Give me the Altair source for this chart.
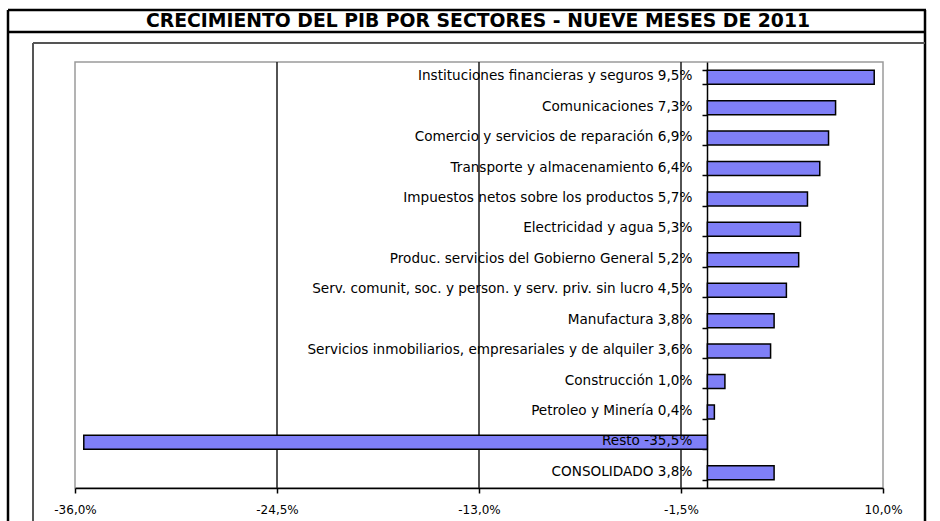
import altair as alt
import pandas as pd

SECTORS = [
    "Instituciones financieras y seguros",
    "Comunicaciones",
    "Comercio y servicios de reparación",
    "Transporte y almacenamiento",
    "Impuestos netos sobre los productos",
    "Electricidad y agua",
    "Produc. servicios del Gobierno General",
    "Serv. comunit, soc. y person. y serv. priv. sin lucro",
    "Manufactura",
    "Servicios inmobiliarios, empresariales y de alquiler",
    "Construcción",
    "Petroleo y Minería",
    "Resto",
    "CONSOLIDADO ",
]
VALUES = [9.5, 7.3, 6.9, 6.4, 5.7, 5.3, 5.2, 4.5, 3.8, 3.6, 1.0, 0.4, -35.5, 3.8]
X_TICKS = [-36.0, -24.5, -13.0, -1.5, 10.0]
GRID = [-24.5, -13.0, -1.5]
TITLE = "CRECIMIENTO DEL PIB POR SECTORES - NUEVE MESES DE 2011"


def fmt(v):
    return f"{v:.1f}".replace(".", ",") + "%"


df = pd.DataFrame({
    "sector": SECTORS,
    "value": VALUES,
    "label": [f"{s} {fmt(v)}" for s, v in zip(SECTORS, VALUES)],
})

W, H = 808, 426
FONT = "DejaVu Sans"

xscale = alt.Scale(domain=[-36, 10], nice=False, zero=False)
xaxis = alt.Axis(
    title=None, values=X_TICKS, grid=False,
    labelExpr="replace(replace(format(datum.value, '.1f'), '.', ','), '\u2212', '-') + '%'",
    labelFont=FONT, labelFontSize=12, labelColor="black",
    labelPadding=11, tickSize=5, tickColor="black", tickWidth=1.5,
    domainColor="black", domainWidth=1.5, labelFlush=False,
)
yscale = alt.Scale(paddingInner=0.54, paddingOuter=0.27)
yaxis = alt.Axis(
    title=None, labels=False, grid=False, offset=-632,
    domainColor="black", domainWidth=1.5, tickColor="black", tickWidth=1.5,
    tickSize=5, tickBand="extent",
)

grid = alt.Chart(pd.DataFrame({"value": GRID})).mark_rule(
    color="#1a1a1a", strokeWidth=1.5
).encode(
    x=alt.X("value:Q", scale=xscale, axis=xaxis),
    y=alt.value(0), y2=alt.value(H),
)

bars = alt.Chart(df).mark_bar(
    fill="#7f7ff7", stroke="black", strokeWidth=1.5
).encode(
    x=alt.X("value:Q", scale=xscale, axis=xaxis),
    x2=alt.datum(0),
    y=alt.Y("sector:N", sort=None, scale=yscale, axis=yaxis),
)

labels = alt.Chart(df).mark_text(
    align="right", baseline="middle", dx=-15, dy=-1, font=FONT, fontSize=13.6, color="black"
).encode(
    x=alt.datum(0),
    y=alt.Y("sector:N", sort=None, scale=yscale, axis=yaxis),
    text="label:N",
)

one = alt.Data(values=[{}])


def line(x, y, x2=None, y2=None, color="black", width=2.0):
    enc = dict(x=alt.value(x), y=alt.value(y))
    if x2 is not None:
        enc["x2"] = alt.value(x2)
    if y2 is not None:
        enc["y2"] = alt.value(y2)
    return alt.Chart(one).mark_rule(color=color, strokeWidth=width).encode(**enc)


frames = [
    # outer frame
    line(-67, -52, y2=470, width=2.5),
    line(-67, -52, x2=851, width=2.5),
    line(-67, -30, x2=851, width=2.5),
    line(850, -52, y2=470, width=2.5),
    # inner chart frame
    line(-42, -19, y2=470, color="#555555", width=2),
    line(-42, -19, x2=850, color="#555555", width=2),
]

title = alt.Chart(one).mark_text(
    text=TITLE, font="DejaVu Sans", fontSize=18.8, fontWeight="bold",
    align="center", baseline="middle", color="black",
).encode(x=alt.value(403), y=alt.value(-41))

chart = alt.layer(*frames, grid, bars, labels, title).properties(
    width=W, height=H,
    autosize=alt.AutoSizeParams(type="none"),
    padding={"left": 75, "top": 62, "right": 57, "bottom": 33},
    background="white",
).configure_view(stroke="#9a9a9a", strokeWidth=1.5)

chart.save("out.html", embed_options={"renderer": "svg", "actions": False})
